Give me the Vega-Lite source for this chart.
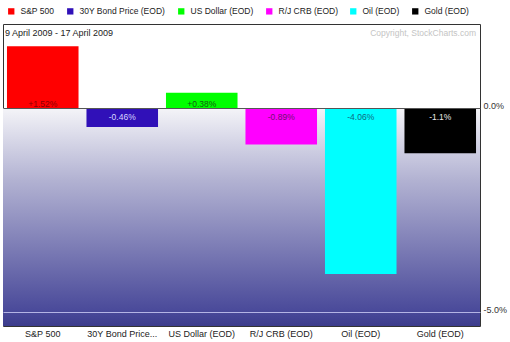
{
  "$schema": "https://vega.github.io/schema/vega-lite/v6.json",
  "width": 477,
  "height": 302,
  "autosize": {"type": "none"},
  "padding": {"left": 3, "top": 24, "right": 30, "bottom": 16},
  "background": "white",
  "config": {
    "font": "Liberation Sans",
    "view": {"stroke": "#333", "strokeWidth": 1}
  },
  "data": {
    "values": [
      {"series": "S&P 500", "value": 1.52, "label": "+1.52%"},
      {"series": "30Y Bond Price (EOD)", "value": -0.46, "label": "-0.46%"},
      {"series": "US Dollar (EOD)", "value": 0.38, "label": "+0.38%"},
      {"series": "R/J CRB (EOD)", "value": -0.89, "label": "-0.89%"},
      {"series": "Oil (EOD)", "value": -4.06, "label": "-4.06%"},
      {"series": "Gold (EOD)", "value": -1.1, "label": "-1.1%"}
    ]
  },
  "resolve": {"scale": {"color": "independent"}},
  "layer": [
    {
      "data": {"values": [{"from": 0, "to": -5.336}]},
      "mark": {
        "type": "rect",
        "fill": {
          "gradient": "linear", "x1": 0, "y1": 0, "x2": 0, "y2": 1,
          "stops": [
            {"offset": 0, "color": "#f4f4f8"},
            {"offset": 0.33, "color": "#b2b2d2"},
            {"offset": 0.93, "color": "#4a4a9a"},
            {"offset": 1, "color": "#3c3c8c"}
          ]
        }
      },
      "encoding": {
        "y": {"field": "from", "type": "quantitative", "scale": {"domain": [-5.336, 2.066], "nice": false, "zero": false}},
        "y2": {"field": "to"}
      }
    },
    {
      "mark": {"type": "bar"},
      "encoding": {
        "x": {
          "field": "series", "type": "nominal", "sort": null,
          "scale": {"paddingInner": 0.1, "paddingOuter": 0.05},
          "axis": {
            "title": null, "labelAngle": 0, "ticks": false, "domain": false,
            "labelFontSize": 9, "labelColor": "#222", "labelPadding": 3,
            "labelExpr": "length(datum.label) > 18 ? substring(datum.label, 0, 14) + '...' : datum.label"
          }
        },
        "y": {
          "field": "value", "type": "quantitative",
          "scale": {"domain": [-5.336, 2.066], "nice": false, "zero": false},
          "axis": {
            "orient": "right", "title": null, "values": [0, -5], "ticks": false, "domain": false,
            "labelFontSize": 9, "labelColor": "#333", "labelPadding": 3, "labelBaseline": "alphabetic",
            "labelExpr": "replace(format(datum.value, '.1f'), '\u2212', '-') + '%'",
            "grid": true, "zindex": 1,
            "gridColor": {"condition": {"test": "datum.value == 0", "value": "#555555"}, "value": "#b4b4e4"},
            "gridOpacity": 1
          }
        },
        "color": {
          "field": "series", "type": "nominal", "sort": null,
          "scale": {
            "domain": ["S&P 500", "30Y Bond Price (EOD)", "US Dollar (EOD)", "R/J CRB (EOD)", "Oil (EOD)", "Gold (EOD)"],
            "range": ["#ff0000", "#3010b8", "#00ff00", "#ff00ff", "#00ffff", "#000000"]
          },
          "legend": {
            "title": null, "orient": "none", "legendX": 4, "legendY": -17,
            "direction": "horizontal", "columns": 6, "symbolType": "square", "symbolSize": 40,
            "symbolStrokeWidth": 0, "labelFontSize": 8.5, "labelColor": "#222",
            "columnPadding": 11, "labelOffset": 5, "padding": 0
          }
        }
      }
    },
    {
      "transform": [{"filter": "datum.value > 0"}],
      "mark": {"type": "text", "fontSize": 8.5, "baseline": "middle", "dy": -4},
      "encoding": {
        "x": {"field": "series", "type": "nominal", "sort": null},
        "y": {"datum": 0, "type": "quantitative"},
        "text": {"field": "label"},
        "color": {
          "field": "series", "type": "nominal", "legend": null,
          "scale": {
            "domain": ["S&P 500", "30Y Bond Price (EOD)", "US Dollar (EOD)", "R/J CRB (EOD)", "Oil (EOD)", "Gold (EOD)"],
            "range": ["#8a0000", "#d8d8ff", "#106010", "#701070", "#106a80", "#e8e8e8"]
          }
        }
      }
    },
    {
      "transform": [{"filter": "datum.value < 0"}],
      "mark": {"type": "text", "fontSize": 8.5, "baseline": "middle", "dy": 8.5},
      "encoding": {
        "x": {"field": "series", "type": "nominal", "sort": null},
        "y": {"datum": 0, "type": "quantitative"},
        "text": {"field": "label"},
        "color": {
          "field": "series", "type": "nominal", "legend": null,
          "scale": {
            "domain": ["S&P 500", "30Y Bond Price (EOD)", "US Dollar (EOD)", "R/J CRB (EOD)", "Oil (EOD)", "Gold (EOD)"],
            "range": ["#8a0000", "#d8d8ff", "#106010", "#701070", "#106a80", "#e8e8e8"]
          }
        }
      }
    },
    {
      "data": {"values": [{"t": "9 April 2009 - 17 April 2009"}]},
      "mark": {"type": "text", "fontSize": 9, "align": "left", "baseline": "middle", "dx": -2, "color": "#222"},
      "encoding": {
        "x": {"datum": "S&P 500", "type": "nominal", "bandPosition": 0},
        "y": {"datum": 1.85, "type": "quantitative"},
        "text": {"field": "t"}
      }
    },
    {
      "data": {"values": [{"t": "Copyright, StockCharts.com"}]},
      "mark": {"type": "text", "fontSize": 8.5, "align": "right", "baseline": "middle", "color": "#c4c4c4"},
      "encoding": {
        "x": {"datum": "Gold (EOD)", "type": "nominal", "bandPosition": 1},
        "y": {"datum": 1.85, "type": "quantitative"},
        "text": {"field": "t"}
      }
    }
  ]
}
